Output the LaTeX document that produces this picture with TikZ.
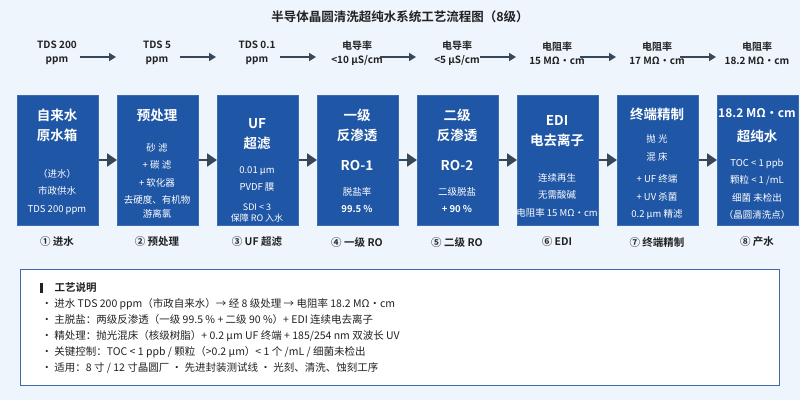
\documentclass[tikz,border=0pt]{standalone}
\usepackage{fontspec}
\setmainfont{Noto Sans CJK SC}
\newfontfamily\bfcjk{Noto Sans CJK SC Bold}
\usetikzlibrary{arrows.meta}
\definecolor{bg}{HTML}{EEF5FD}
\definecolor{boxblue}{HTML}{1F56A5}
\definecolor{boxedge}{HTML}{3D6BB0}
\definecolor{arr}{HTML}{37475A}
\definecolor{txt}{HTML}{222222}
\tikzset{
  stage/.style={draw=boxedge,line width=0.8pt,fill=boxblue,minimum width=81pt,minimum height=130pt,anchor=north west,inner sep=0pt},
  innertxt/.style={text=white,align=center,inner sep=0pt,font=\fontsize{9.5}{17.5}\selectfont},
  ttl/.style={text=white,align=center,inner sep=0pt,font=\bfcjk\fontsize{13.5}{20}\selectfont},
  stagecap/.style={text=txt,font=\bfcjk\fontsize{10.5}{12}\selectfont},
  toprow/.style={text=txt,align=center,inner sep=1pt,font=\bfcjk\fontsize{10}{14}\selectfont},
  bigarr/.style={arr,line width=2.2pt,-{Triangle[length=10pt,width=13pt]}},
  smallarr/.style={arr,line width=1.6pt,-{Triangle[length=7pt,width=8pt]}},
  notetxt/.style={text=txt,anchor=west,font=\fontsize{10.5}{12}\selectfont}
}
\begin{document}
\begin{tikzpicture}[x=1pt,y=-1pt]
\fill[bg] (0,0) rectangle (800,400);
\useasboundingbox (0,0) rectangle (800,400);
\node[text=txt,font=\bfcjk\fontsize{12.5}{14}\selectfont] (title) at (400,17) {半导体晶圆清洗超纯水系统工艺流程图（8级）};
% top row
\foreach \i/\t in {0/{TDS 200\\ppm},1/{TDS 5\\ppm},2/{TDS 0.1\\ppm},3/{电导率\\<10 µS/cm},4/{电导率\\<5 µS/cm},5/{电阻率\\15 MΩ・cm},6/{电阻率\\17 MΩ・cm},7/{电阻率\\18.2 MΩ・cm}}
  \node[toprow] (t\i) at (57+100*\i,53) {\t};
\foreach \i [evaluate=\i as \j using int(\i+1)] in {0,...,6}
  \draw[smallarr] (80+100*\i,57) coordinate (a\i) -- (116+100*\i,57) coordinate (b\i);
% stages
\foreach \i in {0,...,7} \node[stage] (s\i) at (17+100*\i,95) {};
\node[ttl] at (57,125) {自来水\\原水箱};
\node[innertxt] at (57,192) {（进水）\\市政供水\\TDS 200 ppm};
\node[ttl] at (157,115) {预处理};
\node[innertxt] at (157,165) {砂 滤\\+ 碳 滤\\+ 软化器};
\node[innertxt,font=\fontsize{9.5}{13.5}\selectfont] at (157,207) {去硬度、有机物\\游离氯};
\node[ttl] at (257,134) {UF\\超滤};
\node[innertxt] at (257,179) {0.01 µm\\PVDF 膜};
\node[innertxt,font=\fontsize{9}{11}\selectfont] at (257,213) {SDI < 3\\保障 RO 入水};
\node[ttl] at (357,125) {一级\\反渗透};
\node[ttl] at (357,165) {RO-1};
\node[innertxt] at (357,200) {脱盐率\\{\bfcjk 99.5 \%}};
\node[ttl] at (457,125) {二级\\反渗透};
\node[ttl] at (457,165) {RO-2};
\node[innertxt] at (457,200) {二级脱盐\\{\bfcjk + 90 \%}};
\node[ttl] at (557,131) {EDI\\电去离子};
\node[innertxt] at (557,195) {连续再生\\无需酸碱\\电阻率 15 MΩ・cm};
\node[ttl] at (657,114) {终端精制};
\node[innertxt] at (657,148) {抛 光\\混 床};
\node[innertxt] at (657,197) {+ UF 终端\\+ UV 杀菌\\0.2 µm 精滤};
\node[ttl,font=\bfcjk\fontsize{12}{24}\selectfont] at (757,126) {18.2 MΩ・cm\\\fontsize{13.5}{14}\selectfont 超纯水};
\node[innertxt] at (757,189) {TOC < 1 ppb\\颗粒 < 1 /mL\\细菌 未检出\\（晶圆清洗点）};
% captions
\foreach \i/\t in {0/① 进水,1/② 预处理,2/③ UF 超滤,3/④ 一级 RO,4/⑤ 二级 RO,5/⑥ EDI,6/⑦ 终端精制,7/⑧ 产水}
  \node[stagecap] (c\i) at (57+100*\i,242) {\t};
\foreach \i [evaluate=\i as \j using int(\i+1)] in {0,...,6}
  \draw[bigarr] (s\i.east|-0,160) -- (s\j.west|-0,160);
% notes
\node[draw=boxedge,line width=1pt,fill=white,minimum width=759pt,minimum height=116pt,anchor=north west,inner sep=0pt] (notes) at (20,269) {};
\fill[txt] (40,283) rectangle (43,293);
\node[notetxt,font=\bfcjk\fontsize{10.5}{12}\selectfont] at (51,288) {工艺说明};
\foreach \k/\t in {0/{进水 TDS 200 ppm（市政自来水）→ 经 8 级处理 → 电阻率 18.2 MΩ・cm},1/{主脱盐：两级反渗透（一级 99.5 \% + 二级 90 \%）+ EDI 连续电去离子},2/{精处理：抛光混床（核级树脂）+ 0.2 µm UF 终端 + 185/254 nm 双波长 UV},3/{关键控制：TOC < 1 ppb / 颗粒（>0.2 µm）< 1 个 /mL / 细菌未检出},4/{适用：8 寸 / 12 寸晶圆厂 ・ 先进封装测试线 ・ 光刻、清洗、蚀刻工序}}
  \node[notetxt] at (38,304+16*\k) {・ \t};
\end{tikzpicture}
\end{document}
